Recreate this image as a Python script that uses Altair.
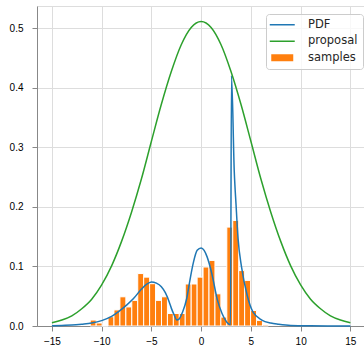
import altair as alt
import numpy as np
import pandas as pd

# ---- data ----
# histogram ("samples"): 30 equal bins between the sample min and max
hist_min, hist_max, n_bins = -11.15, 6.76, 30
hist_density = [0.010, 0.005, 0.000, 0.0156, 0.027, 0.049, 0.032, 0.043, 0.088, 0.082,
                0.071, 0.043, 0.049, 0.021, 0.021, 0.021, 0.0705, 0.0705, 0.082, 0.099,
                0.110, 0.054, 0.015, 0.166, 0.177, 0.093, 0.0765, 0.026, 0.0094, 0.0017]

# target PDF curve
pdf_x = [-15, -14, -13, -12, -11, -10, -9, -8.3, -7.5, -6.8, -6, -5.5, -5, -4.5, -4,
         -3.6, -3.2, -3.0, -2.7, -2.45, -2.2, -1.9, -1.44, -1.2, -0.8, -0.4, 0, 0.3,
         0.6, 1.1, 1.6, 2.1, 2.6, 2.95, 3.05, 3.33, 3.51, 3.71, 4.05, 4.62, 5.19, 6.1,
         7.0, 7.8, 9, 11, 13, 15]
pdf_y = [0.0005, 0.001, 0.0015, 0.003, 0.005, 0.009, 0.016, 0.024, 0.035, 0.046, 0.062,
         0.070, 0.074, 0.072, 0.066, 0.056, 0.040, 0.030, 0.018, 0.010, 0.012, 0.022,
         0.047, 0.070, 0.105, 0.127, 0.131, 0.127, 0.116, 0.086, 0.046, 0.021, 0.006,
         0.002, 0.420, 0.259, 0.203, 0.147, 0.100, 0.052, 0.024, 0.010, 0.005, 0.003,
         0.001, 0.0003, 0.0001, 0.0]

# proposal curve
prop_x = list(range(-15, 16))
prop_half = [0.0056, 0.010, 0.017, 0.029, 0.045, 0.069, 0.101, 0.142, 0.191, 0.247,
             0.310, 0.372, 0.427, 0.472, 0.501]
prop_y = prop_half + [0.511] + prop_half[::-1]

x_ticks = [-15, -10, -5, 0, 5, 10, 15]
y_ticks = [0.0, 0.1, 0.2, 0.3, 0.4, 0.5]

series_names = ["PDF", "proposal", "samples"]
series_colors = ["#1f77b4", "#2ca02c", "#ff7f0e"]

# ---- tables ----
edges = np.linspace(hist_min, hist_max, n_bins + 1)
hist_df = pd.DataFrame({"x0": edges[:-1], "x1": edges[1:], "y": hist_density,
                        "series": "samples"})
lines_df = pd.concat([
    pd.DataFrame({"x": pdf_x, "y": pdf_y, "series": "PDF"}),
    pd.DataFrame({"x": prop_x, "y": prop_y, "series": "proposal"}),
])

FONT = "DejaVu Sans"
FS = 11.5
xscale = alt.Scale(domain=[-16.5, 16.37], nice=False, zero=False)
yscale = alt.Scale(domain=[0, 0.537], nice=False)
color = alt.Color(
    "series:N",
    scale=alt.Scale(domain=series_names, range=series_colors),
    title=None,
    legend=alt.Legend(
        orient="none", legendX=229, legendY=8,
        symbolType={"expr": "datum.value === 'samples' ? 'M-1.76,-0.56H1.76V0.56H-1.76Z' : 'M-2,0H2'"},
        symbolSize=156.25,
        symbolOffset=5.5,
        symbolStrokeWidth={"expr": "datum.value === 'samples' ? 0 : 1.5"},
        symbolStrokeColor={"expr": "scale('color', datum.value)"},
        symbolFillColor={"expr": "datum.value === 'samples' ? '#ff7f0e' : 'transparent'"},
        labelFontSize=FS, labelFont=FONT, labelColor="#262626",
        padding=5, rowPadding=3.5, labelOffset=20,
        fillColor="rgba(255,255,255,0.8)", strokeColor="#cccccc", cornerRadius=3,
    ),
)

bars = alt.Chart(hist_df).mark_bar(stroke="white", strokeWidth=1).encode(
    x=alt.X("x0:Q", scale=xscale,
            axis=alt.Axis(values=x_ticks, title=None, labelPadding=5)),
    x2="x1:Q",
    y=alt.Y("y:Q", scale=yscale,
            axis=alt.Axis(values=y_ticks, format=".1f", title=None, labelPadding=9)),
    y2=alt.datum(0),
    color=color,
)

lines = alt.Chart(lines_df).mark_line(strokeWidth=1.5, interpolate="monotone").encode(
    x=alt.X("x:Q", scale=xscale),
    y=alt.Y("y:Q", scale=yscale),
    color=color,
    detail="series:N",
)

chart = alt.layer(bars, lines).properties(
    width=327, height=320,
    autosize=alt.AutoSizeParams(type="none"),
    padding={"left": 37, "top": 6, "right": 0, "bottom": 19},
).configure_view(
    stroke="#cccccc", strokeWidth=1
).configure_axis(
    grid=True, gridColor="#cccccc", gridWidth=1, domain=False, ticks=False,
    labelFont=FONT, labelFontSize=FS, labelColor="#262626",
).configure(background="white")

chart.save("out.html", embed_options={"renderer": "svg", "actions": False})
